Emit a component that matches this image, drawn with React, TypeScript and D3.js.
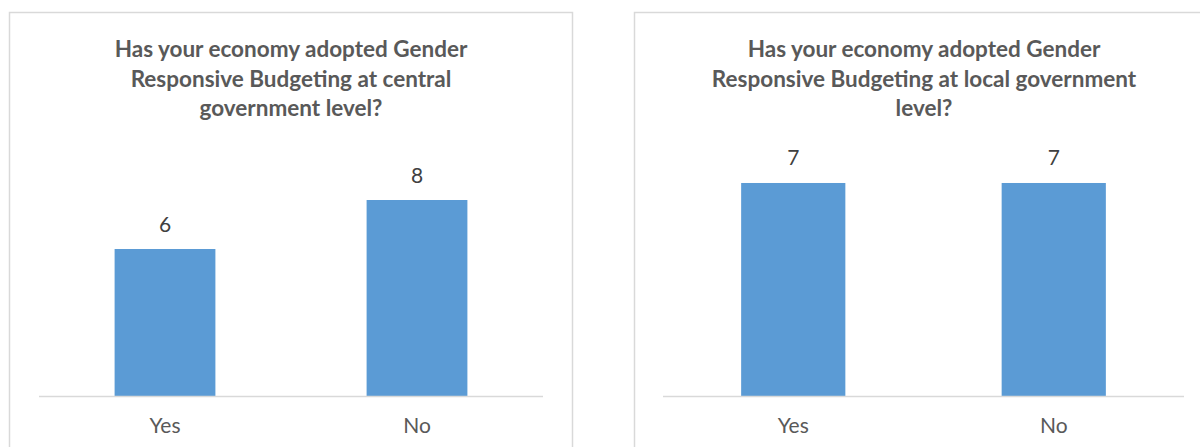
import React from "react";
import * as d3 from "d3";

const categories = ["Yes", "No"];
const centralValues = [6, 8];
const localValues = [7, 7];
const centralTitle = [
  "Has your economy adopted Gender",
  "Responsive Budgeting at central",
  "government level?",
];
const localTitle = [
  "Has your economy adopted Gender",
  "Responsive Budgeting at local government",
  "level?",
];

const W = 1200;
const H = 447;
const BAR = "#5B9BD5";
const TEXT = "#595959";
const GRID = "#D9D9D9";
const FONT = "Lato, 'Open Sans', sans-serif";

type PanelProps = {
  x0: number;
  x1: number;
  axisX0: number;
  axisX1: number;
  yMax: number;
  yTop: number;
  values: number[];
  title: string[];
  titleCx: number;
};

function Panel({ x0, x1, axisX0, axisX1, yMax, yTop, values, title, titleCx }: PanelProps) {
  const baseY = 396;
  const x = d3.scaleBand<string>().domain(categories).range([axisX0, axisX1]).paddingInner(0.6).paddingOuter(0.3);
  const y = d3.scaleLinear().domain([0, yMax]).range([baseY, yTop]);
  return (
    <g>
      <rect x={x0 + 0.5} y={12.5} width={x1 - x0} height={H} fill="#fff" stroke={GRID} strokeWidth={1.5} />
      {title.map((t, i) => (
        <text
          key={i}
          x={titleCx}
          y={57 + i * 29.5}
          textAnchor="middle"
          fontFamily={FONT}
          fontWeight="bold"
          fontSize={22.5}
          fill={TEXT}
        >
          {t}
        </text>
      ))}
      {categories.map((c, i) => (
        <g key={c}>
          <rect x={x(c)!} y={y(values[i])} width={x.bandwidth()} height={baseY - y(values[i])} fill={BAR} />
          <text
            x={x(c)! + x.bandwidth() / 2}
            y={y(values[i]) - 17.5}
            textAnchor="middle"
            fontFamily={FONT}
            fontSize={21}
            fill="#404040"
          >
            {values[i]}
          </text>
          <text
            x={x(c)! + x.bandwidth() / 2}
            y={433}
            textAnchor="middle"
            fontFamily={FONT}
            fontSize={21}
            fill={TEXT}
          >
            {c}
          </text>
        </g>
      ))}
      <line x1={axisX0} x2={axisX1} y1={baseY + 0.5} y2={baseY + 0.5} stroke={GRID} strokeWidth={1.5} />
    </g>
  );
}

export default function App() {
  return (
    <svg width={W} height={H} style={{ position: "absolute", left: 0, top: 0, background: "#fff" }}>
      <rect x={0} y={0} width={W} height={H} fill="#fff" />
      <Panel
        x0={9}
        x1={572}
        axisX0={39}
        axisX1={543}
        yMax={9}
        yTop={396 - 9 * 24.5}
        values={centralValues}
        title={centralTitle}
        titleCx={291}
      />
      <Panel
        x0={634}
        x1={1214}
        axisX0={663}
        axisX1={1184}
        yMax={8}
        yTop={396 - 8 * 30.43}
        values={localValues}
        title={localTitle}
        titleCx={924}
      />
    </svg>
  );
}
